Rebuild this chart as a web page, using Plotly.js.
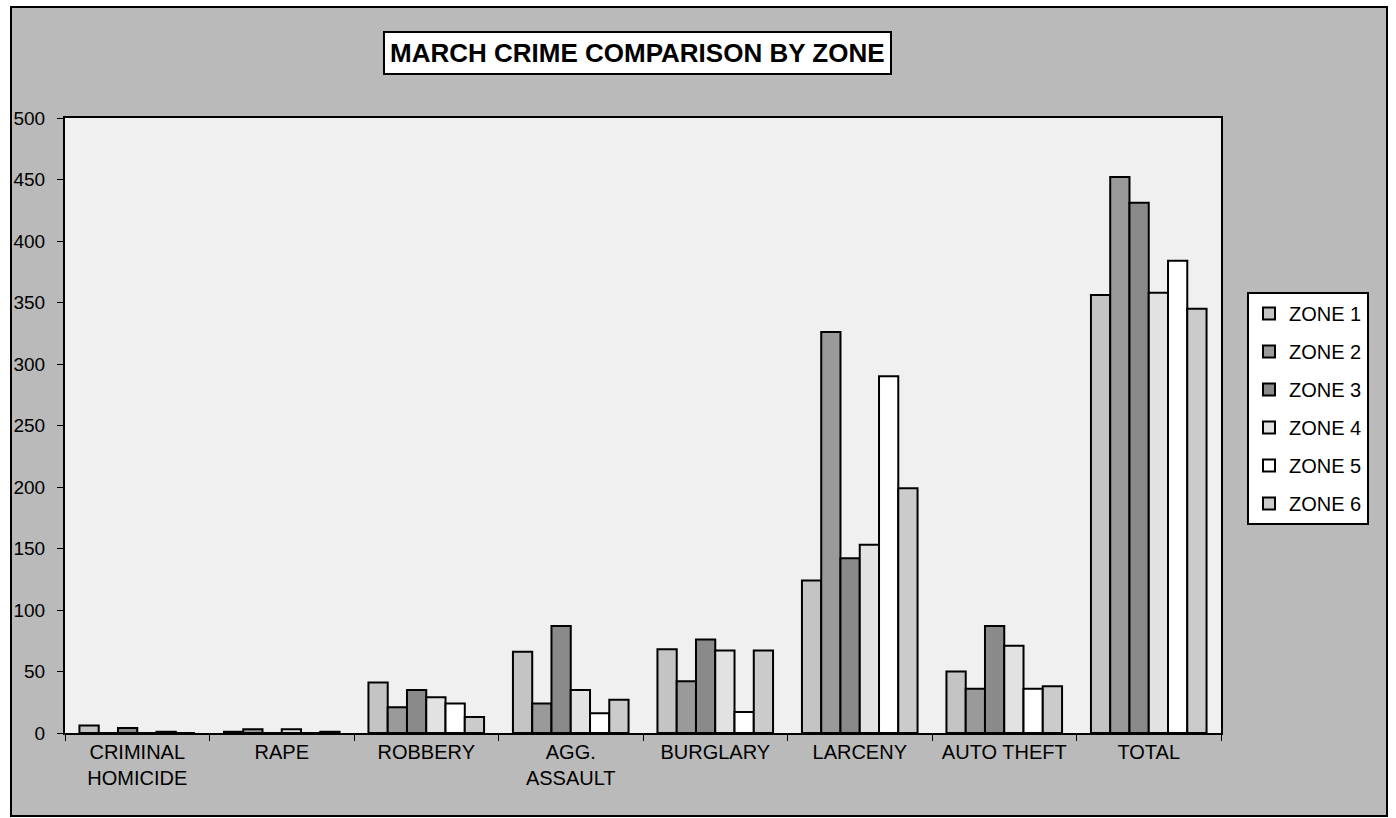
<!DOCTYPE html>
<html>
<head>
<meta charset="utf-8">
<script src="https://cdn.plot.ly/plotly-3.0.1.min.js"></script>
<style>
  html, body { margin: 0; padding: 0; background: #ffffff; width: 1396px; height: 818px; overflow: hidden; }
  #frame { position: absolute; left: 10px; top: 6px; width: 1378px; height: 811px; border: 2px solid #000; box-sizing: border-box; background: #bdbdbd; }
  #chart { position: absolute; left: 0; top: 0; width: 1374px; height: 807px; }
</style>
</head>
<body>
<div id="frame"><div id="chart"></div></div>
<script>
const categories = ["CRIMINAL<br>HOMICIDE", "RAPE", "ROBBERY", "AGG.<br>ASSAULT", "BURGLARY", "LARCENY", "AUTO THEFT", "TOTAL"];
const zoneNames = ["ZONE 1", "ZONE 2", "ZONE 3", "ZONE 4", "ZONE 5", "ZONE 6"];
const zone1 = [6, 1, 41, 66, 68, 124, 50, 356];
const zone2 = [0, 3, 21, 24, 42, 326, 36, 452];
const zone3 = [4, 0, 35, 87, 76, 142, 87, 431];
const zone4 = [0, 3, 29, 35, 67, 153, 71, 358];
const zone5 = [1, 0, 24, 16, 17, 290, 36, 384];
const zone6 = [0, 1, 13, 27, 67, 199, 38, 345];
const zoneColors = ["#c4c4c4", "#9a9a9a", "#8a8a8a", "#e2e2e2", "#ffffff", "#cbcbcb"];
const yTicks = [0, 50, 100, 150, 200, 250, 300, 350, 400, 450, 500];

const font = "Arial, 'Liberation Sans', sans-serif";
const series = [zone1, zone2, zone3, zone4, zone5, zone6];
const traces = series.map((vals, i) => ({
  type: "bar",
  name: zoneNames[i],
  x: categories,
  y: vals,
  legendgroup: "g" + i,
  marker: { color: zoneColors[i], line: { color: "#000", width: 2 } },
  hoverinfo: "x+y+name"
}));

const layout = {
  width: 1374,
  height: 807,
  margin: { l: 53, r: 165, t: 110, b: 82 },
  paper_bgcolor: "#bababa",
  plot_bgcolor: "#f0f0f0",
  barmode: "group",
  bargap: 0.2,
  bargroupgap: 0,
  font: { family: font, color: "#000", size: 20 },
  showlegend: true,
  legend: {
    x: 1.0225, xanchor: "left",
    y: 0.717, yanchor: "top",
    bgcolor: "#ffffff",
    bordercolor: "#000",
    borderwidth: 2,
    font: { family: font, size: 20, color: "#000" },
    traceorder: "grouped",
    tracegroupgap: 9,
    itemwidth: 30
  },
  xaxis: {
    type: "category",
    showline: true, linecolor: "#000", linewidth: 2, mirror: true,
    ticks: "outside", tickson: "boundaries", ticklen: 6, tickcolor: "#000", tickwidth: 1,
    showgrid: false, zeroline: false,
    tickfont: { family: font, size: 20, color: "#000" },
    fixedrange: true
  },
  yaxis: {
    range: [0, 500],
    tickvals: yTicks,
    ticktext: yTicks.map(String),
    showline: true, linecolor: "#000", linewidth: 2, mirror: true,
    ticks: "outside", ticklen: 6, tickcolor: "#000", tickwidth: 1,
    ticklabelstandoff: 8,
    showgrid: false, zeroline: false,
    tickfont: { family: font, size: 19, color: "#000" },
    fixedrange: true
  },
  annotations: [{
    text: "<b>MARCH CRIME COMPARISON BY ZONE</b>",
    xref: "paper", yref: "paper",
    x: 0.495, y: 1.105,
    xanchor: "center", yanchor: "middle",
    showarrow: false,
    bgcolor: "#ffffff",
    bordercolor: "#000",
    borderwidth: 2,
    borderpad: 5,
    font: { family: font, size: 26, color: "#000" }
  }]
};

Plotly.newPlot("chart", traces, layout, { displayModeBar: false, staticPlot: true });
</script>
</body>
</html>
